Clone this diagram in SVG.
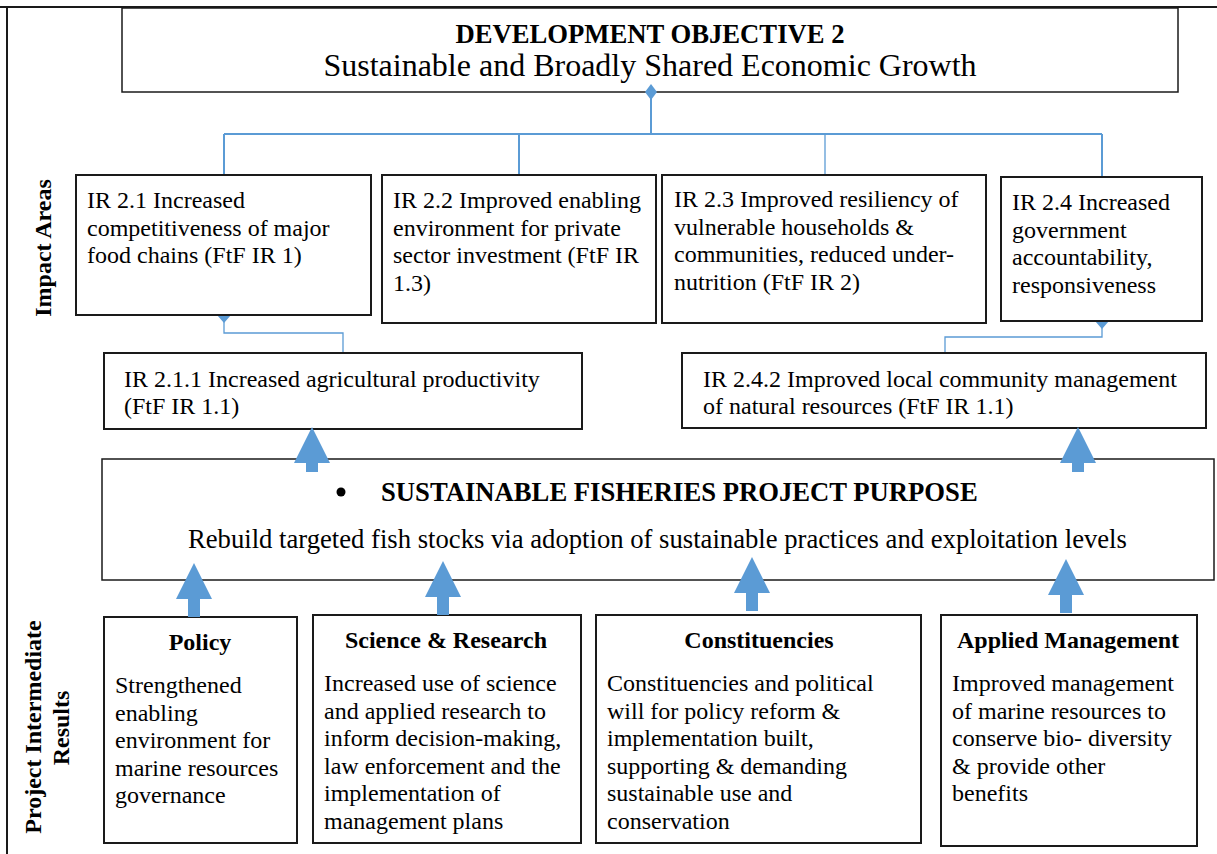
<svg xmlns="http://www.w3.org/2000/svg" width="1217" height="854" viewBox="0 0 1217 854">
<style>
.box{fill:#fff;stroke:#1a1a1a;stroke-width:2}
.thin{fill:#fff;stroke:#1a1a1a;stroke-width:1.5}
.t{font-family:"Liberation Serif","Times New Roman",serif;font-size:24px;fill:#000}
.big{font-size:26.67px}
.huge{font-size:32px}
.b{font-weight:bold}
.c{text-anchor:middle}
.ln{fill:none;stroke:#5b9bd5;stroke-width:2}
.ln1{fill:none;stroke:#5b9bd5;stroke-width:1.3}
.dia{fill:#5b9bd5}
.arr{fill:#5b9bd5}
</style>
<defs>
<path id="arrow" d="M0,0 L18,36 L6,36 L6,54 L-6,54 L-6,36 L-18,36 Z"/>
<path id="arrowS" d="M0,0 L18,36 L6,36 L6,45 L-6,45 L-6,36 L-18,36 Z"/>
</defs>
<rect width="1217" height="854" fill="#fff"/>
<g id="frame" fill="none" stroke="#1a1a1a" stroke-width="2">
<path d="M0,7 H1217 M7,7 V854"/>
</g>
<g id="labels">
<text class="t b c" transform="translate(51,248) rotate(-90)">Impact Areas</text>
<text class="t b c" transform="translate(41,727) rotate(-90)">Project Intermediate</text>
<text class="t b c" transform="translate(69,728) rotate(-90)">Results</text>
</g>
<g id="objective">
<rect class="thin" x="122" y="8" width="1056" height="84"/>
<text class="t big b c" x="650" y="43">DEVELOPMENT OBJECTIVE 2</text>
<text class="t huge c" x="650" y="76">Sustainable and Broadly Shared Economic Growth</text>
</g>
<g id="connectors">
<path class="ln" d="M651,92 V134"/>
<path class="ln" stroke-width="3" d="M224,134 H1102"/>
<path class="ln" d="M224,134 V175 M519,134 V175 M1102,134 V177"/>
<path class="ln1" d="M825,134 V175"/>
<path class="dia" d="M651,84 L657,92 L651,100 L645,92 Z"/>
<path class="ln1" d="M224,315 V333 H343 V353"/>
<path class="dia" d="M224,307 L231,315 L224,323 L217,315 Z"/>
<path class="ln1" d="M1102,321 V337 H945 V353"/>
<path class="dia" d="M1102,313 L1109,321 L1102,329 L1095,321 Z"/>
</g>
<g id="ir21">
<rect class="box" x="76" y="175" width="295" height="140"/>
<text class="t" x="87" y="208">IR 2.1 Increased</text>
<text class="t" x="87" y="235.5">competitiveness of major</text>
<text class="t" x="87" y="263">food chains (FtF IR 1)</text>
</g>
<g id="ir22">
<rect class="box" x="382" y="175" width="274" height="148"/>
<text class="t" x="393" y="208">IR 2.2 Improved enabling</text>
<text class="t" x="393" y="235.5">environment for private</text>
<text class="t" x="393" y="263">sector investment (FtF IR</text>
<text class="t" x="393" y="290.5">1.3)</text>
</g>
<g id="ir23">
<rect class="box" x="662" y="175" width="324" height="148"/>
<text class="t" x="674" y="207">IR 2.3 Improved resiliency of</text>
<text class="t" x="674" y="234.5">vulnerable households &amp;</text>
<text class="t" x="674" y="262">communities, reduced under-</text>
<text class="t" x="674" y="289.5">nutrition (FtF IR 2)</text>
</g>
<g id="ir24">
<rect class="box" x="1001" y="177" width="201" height="144"/>
<text class="t" x="1012" y="210">IR 2.4 Increased</text>
<text class="t" x="1012" y="237.5">government</text>
<text class="t" x="1012" y="265">accountability,</text>
<text class="t" x="1012" y="292.5">responsiveness</text>
</g>
<g id="ir211">
<rect class="box" x="104" y="353" width="478" height="76"/>
<text class="t" x="124" y="387">IR 2.1.1 Increased agricultural productivity</text>
<text class="t" x="124" y="414">(FtF IR 1.1)</text>
</g>
<g id="ir242">
<rect class="box" x="682" y="353" width="524" height="75"/>
<text class="t" x="703" y="387">IR 2.4.2 Improved local community management</text>
<text class="t" x="703" y="414">of natural resources (FtF IR 1.1)</text>
</g>
<g id="purpose">
<rect class="thin" x="102" y="459" width="1112" height="121"/>
<circle cx="341" cy="492" r="4.5" fill="#000"/>
<text class="t big b" x="381" y="501">SUSTAINABLE FISHERIES PROJECT PURPOSE</text>
<text class="t big" x="188" y="548">Rebuild targeted fish stocks via adoption of sustainable practices and exploitation levels</text>
</g>
<g id="policy">
<rect class="box" x="104" y="617" width="193" height="226"/>
<text class="t b c" x="200" y="650">Policy</text>
<text class="t" x="115" y="693">Strengthened</text>
<text class="t" x="115" y="720.5">enabling</text>
<text class="t" x="115" y="748">environment for</text>
<text class="t" x="115" y="775.5">marine resources</text>
<text class="t" x="115" y="803">governance</text>
</g>
<g id="science">
<rect class="box" x="313" y="615" width="268" height="228"/>
<text class="t b c" x="446" y="648">Science &amp; Research</text>
<text class="t" x="324" y="691">Increased use of science</text>
<text class="t" x="324" y="718.5">and applied research to</text>
<text class="t" x="324" y="746">inform decision-making,</text>
<text class="t" x="324" y="773.5">law enforcement and the</text>
<text class="t" x="324" y="801">implementation of</text>
<text class="t" x="324" y="828.5">management plans</text>
</g>
<g id="constituencies">
<rect class="box" x="596" y="615" width="325" height="228"/>
<text class="t b c" x="759" y="648">Constituencies</text>
<text class="t" x="607" y="691">Constituencies and political</text>
<text class="t" x="607" y="718.5">will for policy reform &amp;</text>
<text class="t" x="607" y="746">implementation built,</text>
<text class="t" x="607" y="773.5">supporting &amp; demanding</text>
<text class="t" x="607" y="801">sustainable use and</text>
<text class="t" x="607" y="828.5">conservation</text>
</g>
<g id="applied">
<rect class="box" x="941" y="615" width="256" height="231"/>
<text class="t b c" x="1068" y="648">Applied Management</text>
<text class="t" x="952" y="691">Improved management</text>
<text class="t" x="952" y="718.5">of marine resources to</text>
<text class="t" x="952" y="746">conserve bio- diversity</text>
<text class="t" x="952" y="773.5">&amp; provide other</text>
<text class="t" x="952" y="801">benefits</text>
</g>
<g id="arrows" class="arr">
<use href="#arrowS" x="312" y="427"/>
<use href="#arrowS" x="1078" y="427"/>
<use href="#arrow" x="194" y="563"/>
<use href="#arrow" x="443" y="561"/>
<use href="#arrow" x="752" y="557"/>
<use href="#arrow" x="1066" y="559"/>
</g>
</svg>
